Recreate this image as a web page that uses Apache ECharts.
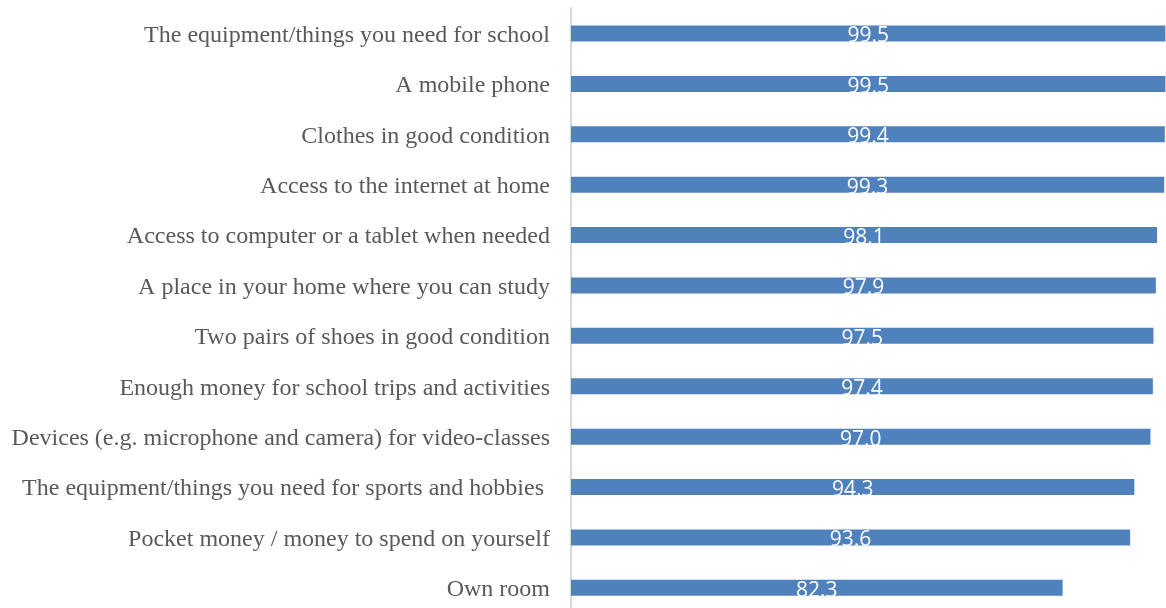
<!DOCTYPE html>
<html>
<head>
<meta charset="utf-8">
<script src="https://cdn.jsdelivr.net/npm/echarts@6/dist/echarts.min.js"></script>
<style>html,body{margin:0;padding:0;background:#fff;overflow:hidden}#c{width:1166px;height:613px}</style>
</head>
<body>
<div id="c"></div>
<script>
const categories = [
  "The equipment/things you need for school",
  "A mobile phone",
  "Clothes in good condition",
  "Access to the internet at home",
  "Access to computer or a tablet when needed",
  "A place in your home where you can study",
  "Two pairs of shoes in good condition",
  "Enough money for school trips and activities",
  "Devices (e.g. microphone and camera) for video-classes",
  "The equipment/things you need for sports and hobbies ",
  "Pocket money / money to spend on yourself",
  "Own room"
];
const values = [99.5, 99.5, 99.4, 99.3, 98.1, 97.9, 97.5, 97.4, 97.0, 94.3, 93.6, 82.3];

const chart = echarts.init(document.getElementById('c'));
chart.setOption({
  animation: false,
  grid: { left: 571, right: 0, top: 8.3, bottom: 0, containLabel: false },
  xAxis: {
    type: 'value', min: 0, max: 99.6,
    show: false
  },
  yAxis: {
    type: 'category', data: categories, inverse: true,
    axisLine: { show: true, lineStyle: { color: '#d9d9d9', width: 2 } },
    axisTick: { show: false },
    axisLabel: {
      margin: 21,
      formatter: v => '{a|' + v + '}',
      rich: {
        a: {
          fontFamily: 'Liberation Serif',
          fontSize: 24,
          color: '#595959',
          padding: [4, 0, 0, 0]
        }
      }
    },
    splitLine: { show: false }
  },
  series: [{
    type: 'bar',
    data: values,
    barWidth: 16,
    itemStyle: { color: '#4f81bd' },
    label: {
      show: true,
      position: 'inside',
      offset: [0, 3],
      color: '#ffffff',
      fontFamily: 'Open Sans',
      fontSize: 21,
      formatter: p => p.value.toFixed(1)
    }
  }]
});
</script>
</body>
</html>
